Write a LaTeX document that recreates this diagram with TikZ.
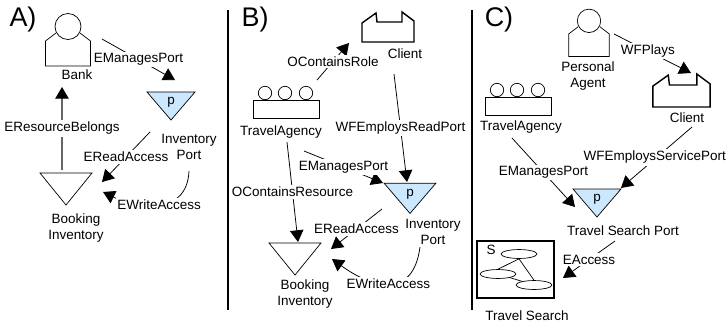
\documentclass[tikz,border=0pt]{standalone}
\usepackage{fontspec}
\setmainfont{Liberation Sans}
\usetikzlibrary{arrows.meta}
\usetikzlibrary{shapes.geometric}

\begin{document}
\begin{tikzpicture} [
        x = 0.03cm,
        y = -0.03cm,
        every node/.style = {
          align = center,
          font = \fontsize{11.5}{13.6}\selectfont,
        },
        txt/.style = {
          inner sep = 0pt,
        },
        title/.style = {
          inner sep = 0pt,
          font = \fontsize{23}{26}\selectfont,
        },
        edgelbl/.style = {
          fill = white,
          inner sep = 1.5pt,
        },
        conn/.style = {
          draw,
          line width = 0.65pt,
          -{Triangle[length = 10pt, width = 11.5pt]},
        },
        divider/.style = {
          draw,
          line width = 1.1pt,
        },
        glyph/.style = {
          inner sep = 0pt,
          minimum size = 24pt,
        },
        actorpic/.pic = {
          \draw [line width = 0.6pt] (-12,-7) -- (-22.5,1) -- (-22.5,26) -- (22.5,26) -- (22.5,1) -- (12,-7);
          \draw [line width = 0.6pt] (0,-13.5) circle (13);
        },
        orgpic/.pic = {
          \draw [line width = 0.6pt] (-33,-2) rectangle (33,16);
          \foreach \cx in {-21,-1,20} {
            \draw [line width = 0.6pt] (\cx,-9) circle (6.7);
          }
        },
        clientpic/.pic = {
          \draw [line width = 1.2pt] (-26,15) -- (-26,-4) -- (-12,-14) -- (-11,-5) -- (14,-5) -- (14,-15) -- (26,-6) -- (26,15) -- cycle;
        },
        portpic/.pic = {
          \draw [line width = 0.6pt, fill = portblue] (-24,-10) -- (24,-10) -- (0,18) -- cycle;
        },
        storepic/.pic = {
          \draw [line width = 0.6pt] (-26,-16) -- (26,-16) -- (0,16) -- cycle;
        },
        actor/.style = {
          glyph,
          append after command = {pic [scale = #1] at (\tikzlastnode.center) {actorpic}},
        },
        actor/.default = 1,
        org/.style = {
          glyph,
          append after command = {pic at (\tikzlastnode.center) {orgpic}},
        },
        client/.style = {
          glyph,
          append after command = {pic [scale = #1] at (\tikzlastnode.center) {clientpic}},
        },
        client/.default = 1,
        port/.style = {
          glyph,
          append after command = {pic [scale = #1] at (\tikzlastnode.center) {portpic}},
        },
        port/.default = 1,
        store/.style = {
          glyph,
          append after command = {pic at (\tikzlastnode.center) {storepic}},
        },
        searchbox/.style = {
          draw,
          line width = 1.2pt,
          inner sep = 0pt,
          minimum width = 65.5pt,
          minimum height = 48.5pt,
        },
        graphnode/.style = {
          draw,
          ellipse,
          line width = 0.6pt,
          inner sep = 0pt,
          minimum width = 30.6pt,
          minimum height = 7.6pt,
        },
      ]
    \definecolor{portblue}{HTML}{CCE8FF}
    \useasboundingbox (0,0) rectangle (727,326);

    % panels
    \node [title] (titleA) at (23,20) {A)};
    \node [title] (titleB) at (255,20) {B)};
    \node [title] (titleC) at (499,20) {C)};
    \draw [divider] (228,10) coordinate (divATop) -- (228,310) coordinate (divABot);
    \draw [divider] (472,10) coordinate (divBTop) -- (472,310) coordinate (divBBot);

    % panel A
    \node [actor] (bank) at (68,40) {};
    \node [txt] (bankLbl) at (77,75) {Bank};
    \node [port] (aPort) at (171,102) {};
    \node [txt] (aPortP) at (aPort) {p};
    \node [txt] (aPortLbl) at (189,147) {Inventory\\Port};
    \node [store] (aStore) at (66,189) {};
    \node [txt] (aStoreLbl) at (76,228) {Booking\\Inventory};

    \draw [conn] ([shift={(34,-1)}]bank.center) -- node [edgelbl] (aManages) {EManagesPort} ([shift={(4,-22)}]aPort.center);
    \draw [conn] ([shift={(-21,30)}]aPort.center) -- node [edgelbl] (aRead) {EReadAccess} ([shift={(36,-7)}]aStore.center);
    \draw [conn] ([shift={(18,69)}]aPort.center) .. controls (187,215) and (140,210) .. node [edgelbl] (aWrite) {EWriteAccess} ([shift={(37,3)}]aStore.center);
    \draw [conn, draw = black!60, line width = 1pt, {-{Triangle[length = 10pt, width = 11.5pt, black]}}] ([shift={(-4,-19)}]aStore.center) -- node [edgelbl, text = black] (aBelongs) {EResourceBelongs} ([shift={(-6,47)}]bank.center);

    % panel B
    \node [client] (bClient) at (388,27) {};
    \node [txt] (bClientLbl) at (405,54) {Client};
    \node [org] (bOrg) at (286,102) {};
    \node [txt] (bOrgLbl) at (281,132) {TravelAgency};
    \node [port = 1.08] (bPort) at (410,194) {};
    \node [txt] (bPortP) at (bPort) {p};
    \node [txt] (bPortLbl) at (433,232) {Inventory\\Port};
    \node [store] (bStore) at (295,259) {};
    \node [txt] (bStoreLbl) at (305,294) {Booking\\Inventory};

    \draw [conn] ([shift={(31,-22)}]bOrg.center) -- node [edgelbl] (bRole) {OContainsRole} ([shift={(-39,16)}]bClient.center);
    \draw [conn] ([shift={(6,47)}]bClient.center) -- node [edgelbl] (bEmploys) {WFEmploysReadPort} ([shift={(-3,-12)}]bPort.center);
    \draw [conn] ([shift={(18,49)}]bOrg.center) -- node [edgelbl] (bManages) {EManagesPort} ([shift={(-27,-11)}]bPort.center);
    \draw [conn] ([shift={(1,40)}]bOrg.center) -- node [edgelbl] (bResource) {OContainsResource} ([shift={(3,-17)}]bStore.center);
    \draw [conn] ([shift={(-28,15)}]bPort.center) -- node [edgelbl] (bRead) {EReadAccess} ([shift={(36,-10)}]bStore.center);
    \draw [conn] ([shift={(10,53)}]bPort.center) .. controls (413,300) and (372,288) .. node [edgelbl] (bWrite) {EWriteAccess} ([shift={(37,0)}]bStore.center);

    % panel C
    \node [actor = 0.9] (cAgent) at (589,33) {};
    \node [txt] (cAgentLbl) at (588,76) {Personal\\Agent};
    \node [client = 1.1] (cClient) at (681.5,90.5) {};
    \node [txt] (cClientLbl) at (687,118) {Client};
    \node [org] (cOrg) at (518,99) {};
    \node [txt] (cOrgLbl) at (521,127) {TravelAgency};
    \node [port] (cPort) at (597,199) {};
    \node [txt] (cPortP) at (cPort) {p};
    \node [txt] (cPortLbl) at (623,231) {Travel Search Port};

    \node [searchbox] (cSearch) at (515.5,269.5) {};
    \node [txt] (cSearchS) at (491,250) {S};
    \node [graphnode] (ellTop) at (519,254) {};
    \node [graphnode] (ellLeft) at (498,274) {};
    \node [graphnode] (ellRight) at (534,285) {};
    \draw [line width = 0.6pt] (ellTop.south) -- (ellLeft.north);
    \draw [line width = 0.6pt] (ellTop.south) -- (ellRight.north);
    \draw [line width = 0.6pt] (ellLeft) -- (ellRight);
    \node [txt] (cSearchLbl) at (527,316) {Travel Search};

    \draw [conn] ([shift={(25,1)}]cAgent.center) -- node [edgelbl, pos = 0.44] (cPlays) {WFPlays} ([shift={(9.5,-17.5)}]cClient.center);
    \draw [conn] ([shift={(-6,39)}]cOrg.center) -- node [edgelbl] (cManages) {EManagesPort} ([shift={(-22,8)}]cPort.center);
    \draw [conn] ([shift={(10.5,36.5)}]cClient.center) -- node [edgelbl, xshift = -1.5pt] (cEmploys) {WFEmploysServicePort} ([shift={(24,-11)}]cPort.center);
    \draw [conn] ([shift={(18,42)}]cPort.center) -- node [edgelbl] (cAccess) {EAccess} ([shift={(47.5,8.5)}]cSearch.center);
  \end{tikzpicture}
\end{document}
